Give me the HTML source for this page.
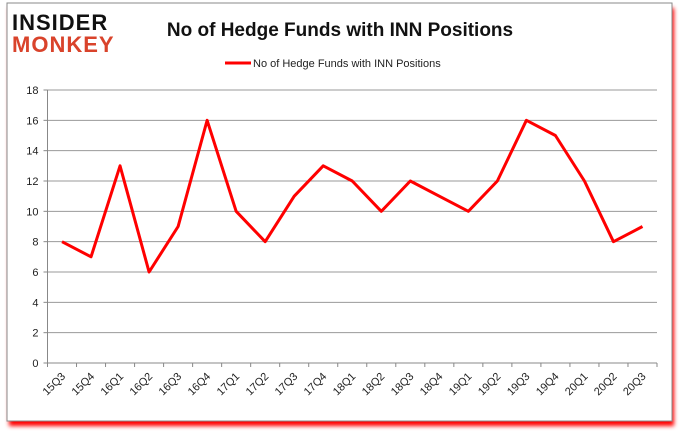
<!DOCTYPE html>
<html><head><meta charset="utf-8"><style>
body{margin:0;background:#fff;}
svg{display:block;font-family:"Liberation Sans",sans-serif;}
</style></head><body>
<svg width="680" height="433">
<defs><filter id="sh" x="-5%" y="-5%" width="110%" height="115%"><feGaussianBlur stdDeviation="2"/></filter></defs>
<rect x="9" y="8" width="665" height="418" fill="#f00" filter="url(#sh)"/>
<rect x="7" y="3" width="665" height="418" fill="#fff" stroke="#888"/>
<g>
<text x="12" y="30" font-size="22" font-weight="bold" fill="#111" letter-spacing="1">INSIDER</text>
<text x="12" y="52" font-size="22" font-weight="bold" fill="#d9432b" letter-spacing="1">MONKEY</text>
</g>
<text x="340" y="36" text-anchor="middle" font-size="19" font-weight="bold" fill="#111">No of Hedge Funds with INN Positions</text>
<g>
<line x1="225" y1="63" x2="251" y2="63" stroke="#f00" stroke-width="3"/>
<text x="253" y="67" font-size="11" fill="#222">No of Hedge Funds with INN Positions</text>
</g>
<g id="grid"></g><g id="axes"></g><g id="series"></g>
</svg>
<script>
const categories=["15Q3","15Q4","16Q1","16Q2","16Q3","16Q4","17Q1","17Q2","17Q3","17Q4","18Q1","18Q2","18Q3","18Q4","19Q1","19Q2","19Q3","19Q4","20Q1","20Q2","20Q3"];
const values=[8,7,13,6,9,16,10,8,11,13,12,10,12,11,10,12,16,15,12,8,9];
const yTicks=[0,2,4,6,8,10,12,14,16,18];
const NS="http://www.w3.org/2000/svg";
const L=47.5,R=657,T=90,B=363,yMax=18;
const step=(R-L)/categories.length;
function x(i){return L+step*(i+0.5);}
function y(v){return B-(v/yMax)*(B-T);}
function mk(tag,a,p){const e=document.createElementNS(NS,tag);for(const k in a)e.setAttribute(k,a[k]);p.appendChild(e);return e;}
const grid=document.getElementById('grid'),axes=document.getElementById('axes'),ser=document.getElementById('series');
yTicks.forEach(t=>{
 const g=mk('line',{x1:L,x2:R,y1:y(t),y2:y(t),stroke:t===0?'#888':'#999','stroke-width':1},grid);
 
 
 const tk=mk('line',{x1:L-4,x2:L,y1:y(t),y2:y(t),stroke:'#888'},axes);
 
 
 const tx=mk('text',{x:L-9,y:y(t)+4,'text-anchor':'end','font-size':11,fill:'#222'},axes);
 tx.textContent=t;
 
 
});
const ya=mk('line',{x1:L,x2:L,y1:T,y2:B,stroke:'#888'},axes);


for(let i=0;i<=categories.length;i++){
 const tk=mk('line',{x1:L+step*i,x2:L+step*i,y1:B,y2:B+4,stroke:'#888'},axes);
 
 
}
categories.forEach((c,i)=>{
 const tx=mk('text',{x:x(i)+4,y:B+14,'text-anchor':'end','font-size':11,fill:'#222',transform:`rotate(-45 ${x(i)+4} ${B+14})`},axes);
 tx.textContent=c;
 
 
});
const pl=mk('polyline',{points:values.map((v,i)=>x(i)+','+y(v)).join(' '),fill:'none',stroke:'#f00','stroke-width':3,'stroke-linejoin':'round'},ser);


</script>
</body></html>
